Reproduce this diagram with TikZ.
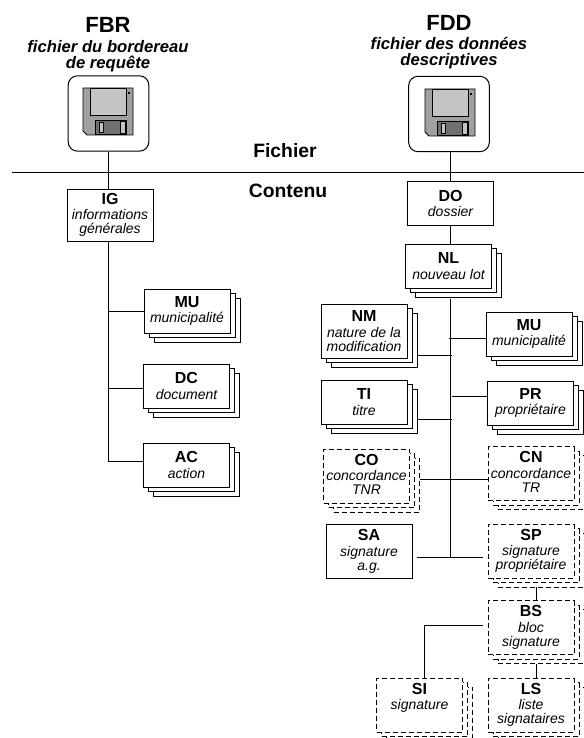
\documentclass[tikz,border=0pt]{standalone}
\usepackage{fontspec}
\setmainfont{Liberation Sans}
\usetikzlibrary{shadows,backgrounds}

\newcommand{\titre}[1]{{\upshape\bfseries\fontsize{12}{10.5}\selectfont #1}\\[1pt]}

\definecolor{grisdisque}{HTML}{A0A0A0}
\definecolor{grisclair}{HTML}{C4C4C4}
\definecolor{grisfonce}{HTML}{707070}

\tikzset{
    pics/disquette/.style={code={
        \draw[fill=grisdisque, line width=.6pt] (0,0) -- (50,0) -- (50,47) -- (4,47) -- (0,43) -- cycle;
        \draw[fill=grisclair, line width=.6pt] (7,0) rectangle (43,27);
        \fill (45,4) rectangle (47,6);
        \draw[fill=grisfonce, line width=.6pt] (12,32) rectangle (43,46);
        \draw[fill=grisclair, line width=.4pt] (16,34) rectangle (20,44);
        \draw[fill=grisclair, line width=.4pt] (37,33) rectangle (42,45);
    }}
}

\begin{document}
\begin{tikzpicture}[x=.75pt, y=-.75pt, line width=.75pt,
    bloc/.style={rectangle, draw, fill=white, minimum width=64.5pt, minimum height=33pt, inner sep=0pt, align=center, font=\fontsize{10.5}{10.5}\selectfont\itshape},
    haut/.style={minimum height=40.5pt},
    pile/.style={bloc,
        general shadow={shadow xshift=7.5pt, shadow yshift=-6.75pt, fill=white, draw},
        general shadow={shadow xshift=3.75pt, shadow yshift=-3.4pt, fill=white, draw}},
    tiret/.style={dash pattern=on 3.75pt off 2.25pt},
    optionnel/.style={pile, tiret, text depth=2.5pt},
    fichier/.style={rectangle, rounded corners=7pt, draw, minimum width=60.5pt, minimum height=56.5pt},
    entete/.style={align=center, inner sep=0pt, font=\fontsize{12.5}{12}\selectfont\bfseries\itshape},
    section/.style={inner sep=0pt, font=\fontsize{14.5}{14.5}\selectfont\bfseries}
]
\useasboundingbox (0,0) rectangle (584,738);

% Fichiers
\node[entete] (fbr) at (108,45) {\upshape\fontsize{16.5}{12}\selectfont FBR\\[3pt]fichier du bordereau\\de requête};
\node[entete] (fdd) at (449,42) {\upshape\fontsize{16.5}{12}\selectfont FDD\\[2pt]fichier des données\\descriptives};
\node[fichier] (fbrbox) at (108.5,113.5) {};
\node[fichier] (fddbox) at (449,114) {};
\pic at (83,88) {disquette};
\pic at (425,89) {disquette};

% Séparation
\coordinate (gauche) at (12,172.5);
\coordinate (droite) at (584,172.5);
\draw (gauche) -- (droite);
\node[section] (fichier) at (285,151) {Fichier};
\node[section] (contenu) at (288,191) {Contenu};

% Noeuds FBR
\node[bloc, haut, minimum height=39pt] (ig) at (110,215) {\titre{IG}informations\\générales};
\node[pile] (mua) at (187,311) {\titre{MU}municipalité};
\node[pile] (dc) at (186.5,386) {\titre{DC}document};
\node[pile] (ac) at (186.5,465) {\titre{AC}action};

% Noeuds FDD
\node[bloc] (do) at (450.5,203.5) {\titre{DO}dossier};
\node[pile] (nl) at (448.5,266) {\titre{NL}nouveau lot};
\node[pile, haut] (nm) at (364,331) {\titre{NM}nature de la\\modification};
\node[pile] (mub) at (529,334) {\titre{MU}municipalité};
\node[pile] (ti) at (364,402) {\titre{TI}titre};
\node[pile] (pr) at (530.5,403) {\titre{PR}propriétaire};
\node[optionnel, haut] (co) at (366.5,476) {\titre{CO}concordance\\TNR};
\node[optionnel, haut] (cn) at (531,473.5) {\titre{CN}concordance\\TR};
\node[bloc, haut] (sa) at (369,551.5) {\titre{SA}signature\\a.g.};
\node[optionnel, haut] (sp) at (531,551) {\titre{SP}signature\\propriétaire};
\node[optionnel, haut] (bs) at (531,627.5) {\titre{BS}bloc\\signature};
\node[optionnel, haut] (si) at (419.5,705) {\titre{SI}signature\\~};
\node[optionnel, haut] (ls) at (531,705) {\titre{LS}liste\\signataires};

% Jonctions
\coordinate (troncfbr) at (108.5,461.5);
\coordinate (jmua) at (108.5,311.5);
\coordinate (jdc) at (108.5,388.5);
\coordinate (tronc) at (450.5,299);
\coordinate (jmub) at (449,338.5);
\coordinate (jnm) at (452,355.5);
\coordinate (jpr) at (452,396.5);
\coordinate (jti) at (452,419.5);
\coordinate (jcn) at (450.5,479.5);
\coordinate (jsa) at (450.5,557.5);
\coordinate (jbs) at (424.5,625.5);
\coordinate (jsp) at (536.5,594);
\coordinate (jls) at (536.5,670);

% Connexions
\begin{pgfonlayer}{background}
\draw (fbrbox.south -| troncfbr) -- (ig.north -| troncfbr);
\draw (ig.south -| troncfbr) -- (troncfbr) -- (troncfbr -| ac.west);
\draw (jmua) -- (jmua -| mua.west);
\draw (jdc) -- (jdc -| dc.west);
\draw (fddbox.south -| tronc) -- (do.north -| tronc);
\draw (do.south -| tronc) -- (nl.north -| tronc);
\draw (tronc) -- (jsa);
\draw (jmub) -- (jmub -| mub.west);
\draw (jnm) -- (jnm -| nm.east);
\draw (jpr) -- (jpr -| pr.west);
\draw (jti) -- (jti -| ti.east);
\draw (jcn -| co.east) -- (jcn -| cn.west);
\draw[shorten <=3pt, shorten >=3.75pt] (jsa -| sa.east) -- (jsa -| sp.west);
\draw (jsp |- sp.south) -- (jsp |- bs.north);
\draw (jls |- bs.south) -- (jls |- ls.north);
\draw[shorten <=3.75pt] (jbs -| bs.west) -- (jbs) -- (jbs |- si.north);
\end{pgfonlayer}

\end{tikzpicture}
\end{document}
